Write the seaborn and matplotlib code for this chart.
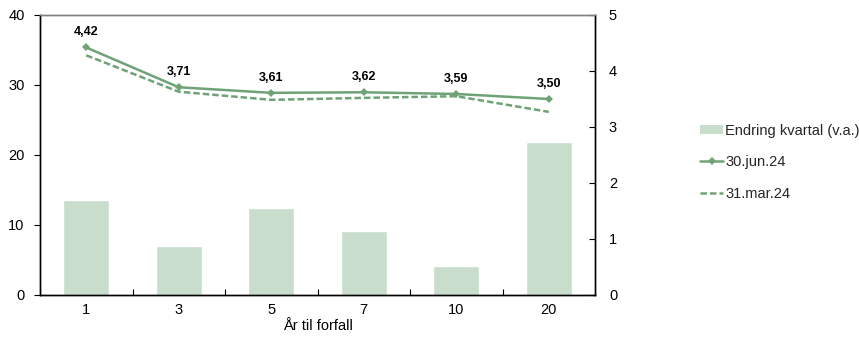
import matplotlib
matplotlib.use("Agg")
import matplotlib.pyplot as plt
from matplotlib.lines import Line2D
from matplotlib.patches import Patch
from matplotlib.ticker import FixedLocator, NullFormatter
import numpy as np
import pandas as pd
import seaborn as sns

# Maturities (years) and yields
maturities = ["1", "3", "5", "7", "10", "20"]
change_bp = [13.6, 7.0, 12.5, 9.2, 4.1, 21.9]          # left axis
yield_jun24 = [4.42, 3.71, 3.61, 3.62, 3.59, 3.50]      # right axis
yield_mar24 = [4.28, 3.63, 3.485, 3.52, 3.55, 3.27]     # right axis

label_bar = "Endring kvartal (v.a.)"
label_jun = "30.jun.24"
label_mar = "31.mar.24"

bar_color = "#C9DDCC"
line_color = "#6FA277"
fs = 10.5
dash = (0, (2.6, 1.2))

sns.set_theme(style="white")
plt.rcParams["font.family"] = ["Liberation Sans", "DejaVu Sans"]
plt.rcParams["font.size"] = fs

df = pd.DataFrame({
    "pos": np.arange(len(maturities)),
    "maturity": maturities,
    "change": change_bp,
    "jun": yield_jun24,
    "mar": yield_mar24,
})

fig = plt.figure(figsize=(8.59, 3.38), dpi=100)
ax = fig.add_axes([40 / 859, 43 / 338, 555 / 859, 280 / 338])

sns.barplot(data=df, x="pos", y="change", color=bar_color, width=0.5,
            saturation=1, ax=ax, native_scale=True)
ax.set_xlim(-0.5, len(maturities) - 0.5)
ax.set_ylim(0, 40)
ax.set_yticks([0, 10, 20, 30, 40])

ax2 = ax.twinx()
sns.lineplot(data=df, x="pos", y="mar", ax=ax2, color=line_color,
             linewidth=1.8, linestyle=dash)
sns.lineplot(data=df, x="pos", y="jun", ax=ax2, color=line_color,
             linewidth=1.8, marker="D", markersize=4.5, markeredgewidth=0)
ax2.set_ylim(0, 5)
ax2.set_yticks([0, 1, 2, 3, 4, 5])
ax2.set_ylabel("")

for x, v in zip(df["pos"], yield_jun24):
    ax2.annotate(f"{v:.2f}".replace(".", ","), (x, v), xytext=(0, 6.5),
                 textcoords="offset points", ha="center", va="bottom",
                 fontsize=9, fontweight="bold", color="black")

# x axis: labels at category centres, tick marks between categories
ax.set_xticks(df["pos"])
ax.set_xticklabels(maturities)
ax.xaxis.set_minor_locator(FixedLocator(np.arange(0.5, len(maturities) - 0.5, 1)))
ax.xaxis.set_minor_formatter(NullFormatter())
ax.tick_params(axis="x", which="major", length=0, pad=6, labelsize=fs, colors="black")
ax.tick_params(axis="x", which="minor", direction="in", length=4, width=0.8,
               color="black", bottom=True)
ax.set_xlabel("År til forfall", fontsize=fs, labelpad=1, color="black")
ax.set_ylabel("")

ax.tick_params(axis="y", direction="out", length=4, width=0.8, left=True,
               labelsize=fs, pad=7, colors="black")
ax2.tick_params(axis="y", direction="in", length=4, width=0.8, right=True,
                labelsize=fs, pad=10, colors="black")

for a in (ax, ax2):
    for s in ("left", "right", "bottom"):
        a.spines[s].set_color("black")
        a.spines[s].set_linewidth(1)
    a.spines["top"].set_color("#808080")
    a.spines["top"].set_linewidth(1)
    a.grid(False)

handles = [
    Patch(facecolor=bar_color, edgecolor="none"),
    Line2D([], [], color=line_color, linewidth=1.8, marker="D", markersize=4.5,
           markeredgewidth=0),
    Line2D([], [], color=line_color, linewidth=1.8, linestyle=dash),
]
fig.legend(handles, [label_bar, label_jun, label_mar], loc="upper left",
           bbox_to_anchor=(694 / 859, 1 - 118 / 338), frameon=False,
           fontsize=fs, handlelength=1.6, handleheight=0.6, handletextpad=0.15,
           labelspacing=1.2, borderaxespad=0)

fig.savefig("out.png", dpi=100)
